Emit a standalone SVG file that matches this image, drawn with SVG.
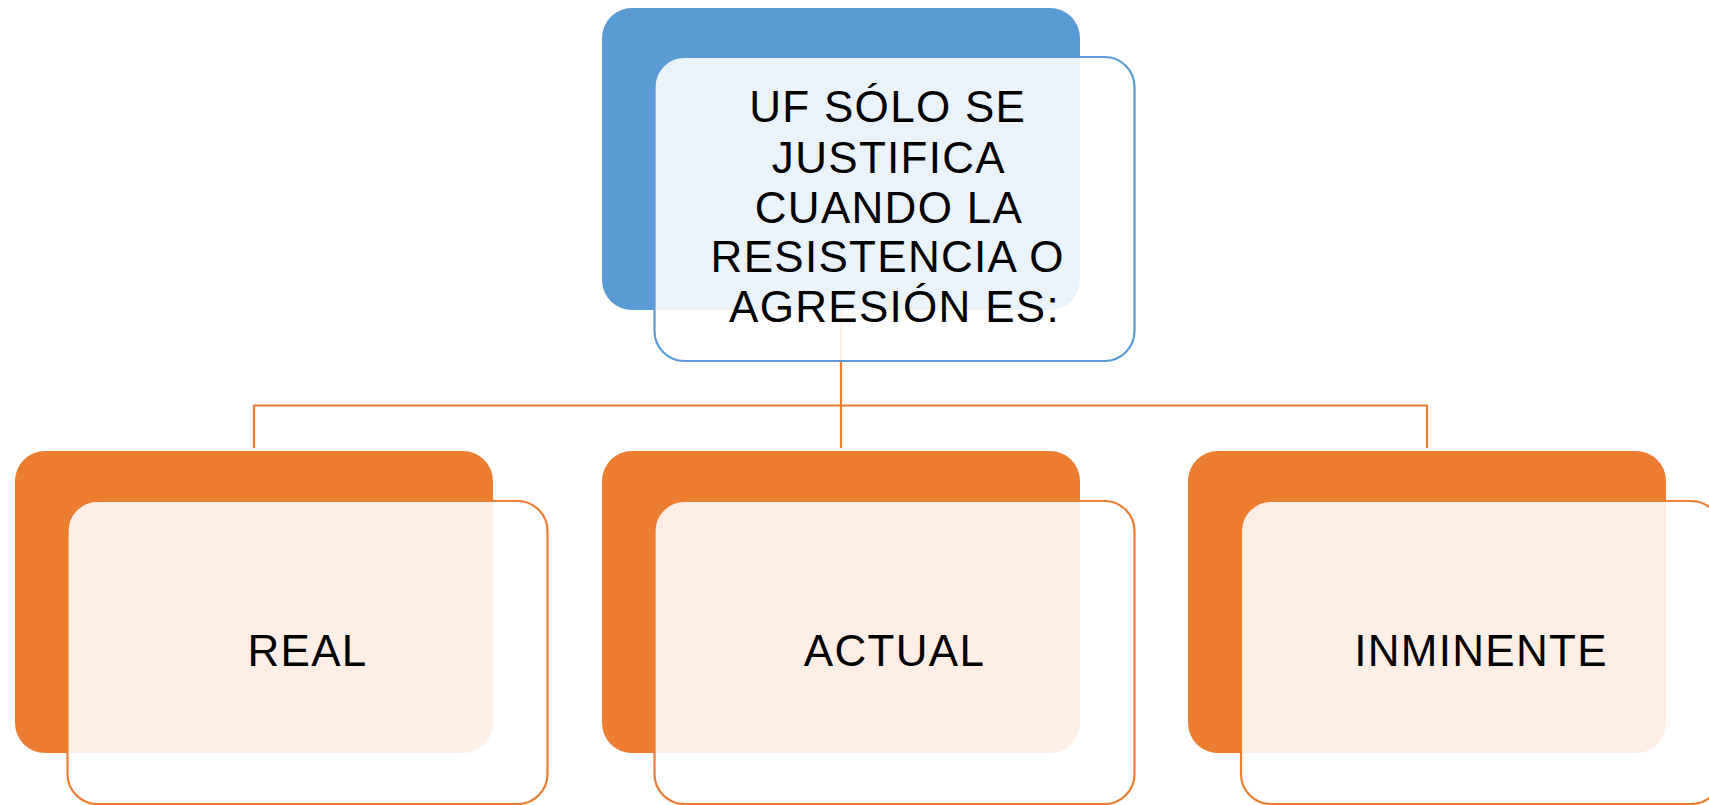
<svg xmlns="http://www.w3.org/2000/svg" width="1709" height="805" viewBox="0 0 1709 805">
<style>
.back-b{fill:#5B9BD5}
.back-o{fill:#ED7D31}
.front-b{fill:#FFFFFF;fill-opacity:0.88;stroke:#5B9BD5;stroke-width:2.2}
.front-o{fill:#FFFFFF;fill-opacity:0.88;stroke:#ED7D31;stroke-width:2.2}
.conn{fill:none;stroke:#ED7D31;stroke-width:2.2}
.lbl{font-family:"Liberation Sans",Arial,sans-serif;font-size:44px;fill:#000;text-anchor:middle;letter-spacing:1.3px}
</style>
<rect width="1709" height="805" fill="#FFFFFF"/>
<g id="backs">
<rect class="back-b" x="602" y="8" width="478" height="302" rx="30"/>
<rect class="back-o" x="15" y="451" width="478" height="302" rx="30"/>
<rect class="back-o" x="602" y="451" width="478" height="302" rx="30"/>
<rect class="back-o" x="1188" y="451" width="478" height="302" rx="30"/>
</g>
<g id="connectors">
<path class="conn" d="M841 310 V405.5 M254 448 V405.5 H1427 V448 M841 405.5 V448"/>
</g>
<g id="node-top">
<rect class="front-b" x="654.5" y="57" width="480" height="304" rx="30"/>
<text class="lbl" x="894.5">
<tspan x="894.5" y="122">UF SÓLO SE</tspan>
<tspan x="894.5" y="172.5">JUSTIFICA</tspan>
<tspan x="894.5" y="223">CUANDO LA</tspan>
<tspan x="894.5" y="272">RESISTENCIA O</tspan>
<tspan x="894.5" y="322">AGRESIÓN ES:</tspan>
</text>
</g>
<g id="node-real">
<rect class="front-o" x="67.5" y="501" width="480" height="303" rx="30"/>
<text class="lbl" x="307.5" y="666">REAL</text>
</g>
<g id="node-actual">
<rect class="front-o" x="654.5" y="501" width="480" height="303" rx="30"/>
<text class="lbl" x="894.5" y="666">ACTUAL</text>
</g>
<g id="node-inminente">
<rect class="front-o" x="1241" y="501" width="480" height="303" rx="30"/>
<text class="lbl" x="1481" y="666">INMINENTE</text>
</g>
</svg>
